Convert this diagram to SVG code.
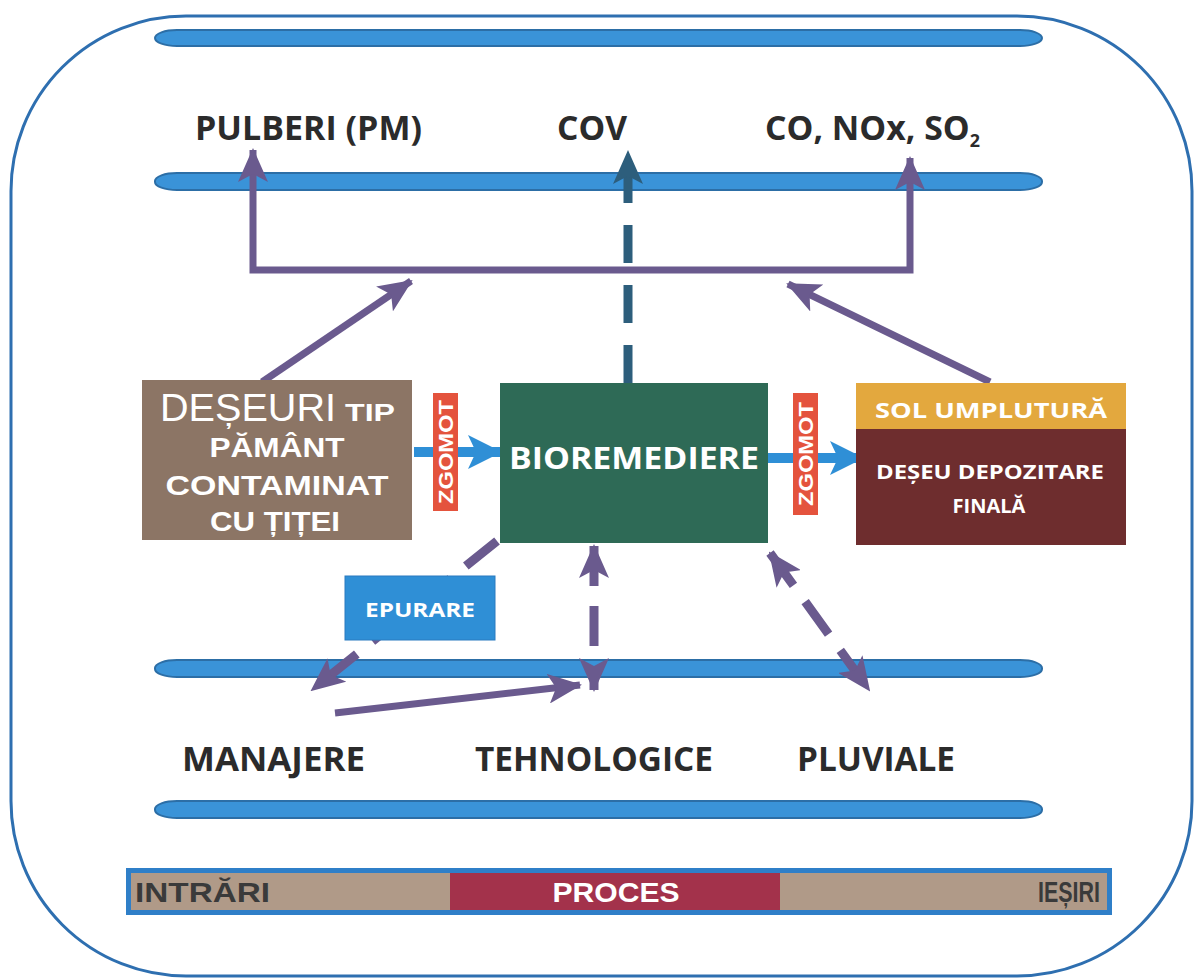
<svg xmlns="http://www.w3.org/2000/svg" width="1194" height="979" viewBox="0 0 1194 979">
<style>
.bar{fill:#3a93d8;stroke:#2c6ea6;stroke-width:2}
.lbl{font-family:"Open Sans","Liberation Sans",sans-serif;font-weight:700;fill:#2b2b2b}
.wt{font-family:"Open Sans","Liberation Sans",sans-serif;font-weight:700;fill:#ffffff}
.wa{font-family:"Liberation Sans",Arial,sans-serif;font-weight:700;fill:#ffffff}
.pur{fill:none;stroke:#6a5a8e;stroke-width:7}
.purd{fill:none;stroke:#6a5a8e;stroke-width:9;stroke-dasharray:40 20}
.blu{fill:none;stroke:#2f8fd6;stroke-width:10}
.zg{fill:#e4533d}
</style>
<defs>
<marker id="ap" markerUnits="userSpaceOnUse" markerWidth="34" markerHeight="30" viewBox="0 0 34 30" refX="32" refY="15" orient="auto-start-reverse">
<path d="M0,0 L34,15 L0,30 L8,15 z" fill="#6a5a8e"/>
</marker>
<marker id="at" markerUnits="userSpaceOnUse" markerWidth="34" markerHeight="30" viewBox="0 0 34 30" refX="32" refY="15" orient="auto">
<path d="M0,0 L34,15 L0,30 L8,15 z" fill="#2d5e7c"/>
</marker>
<marker id="ab" markerUnits="userSpaceOnUse" markerWidth="34" markerHeight="34" viewBox="0 0 34 34" refX="32" refY="17" orient="auto">
<path d="M0,0 L34,17 L0,34 L8,17 z" fill="#2f8fd6"/>
</marker>
</defs>
<rect x="0" y="0" width="1194" height="979" fill="#ffffff"/>
<rect x="11" y="16" width="1181" height="960" rx="175" ry="175" fill="none" stroke="#2e6fb0" stroke-width="3"/>
<g id="bars">
<rect class="bar" x="155" y="30" width="887" height="16" rx="22" ry="8"/>
<rect class="bar" x="155" y="173" width="887" height="17" rx="22" ry="8"/>
<rect class="bar" x="155" y="660" width="887" height="17" rx="22" ry="8"/>
<rect class="bar" x="155" y="801" width="887" height="17" rx="22" ry="8"/>
</g>
<g id="connectors">
<path class="pur" d="M253,150 V270 H910 V158" marker-start="url(#ap)" marker-end="url(#ap)"/>
<path class="pur" d="M262,382 L411,281" marker-end="url(#ap)"/>
<path class="pur" d="M990,382 L788,284" marker-end="url(#ap)"/>
<path fill="none" stroke="#2d5e7c" stroke-width="9" stroke-dasharray="38 22" d="M628,383 V152" marker-end="url(#at)"/>
<path class="blu" d="M414,452 H500" marker-end="url(#ab)"/>
<path class="blu" d="M768,458 H862" marker-end="url(#ab)"/>
<path class="purd" d="M497,541 L312,690" marker-end="url(#ap)"/>
<path class="purd" d="M594,546 V690" marker-start="url(#ap)" marker-end="url(#ap)"/>
<path class="purd" d="M770,553 L869,690" marker-start="url(#ap)" marker-end="url(#ap)"/>
<path class="pur" d="M335,713 L580,685" marker-end="url(#ap)"/>
</g>
<g id="top-labels">
<text class="lbl" x="195" y="140" font-size="34" textLength="227" lengthAdjust="spacingAndGlyphs">PULBERI (PM)</text>
<text class="lbl" x="557" y="140" font-size="34" textLength="70" lengthAdjust="spacingAndGlyphs">COV</text>
<text class="lbl" x="765" y="140" font-size="34" textLength="215" lengthAdjust="spacingAndGlyphs">CO, NOx, SO<tspan font-size="18" dy="7">2</tspan></text>
</g>
<g id="deseuri">
<rect x="142" y="380" width="270" height="160" fill="#8c7565"/>
<text x="160" y="421" font-family="Liberation Sans, Arial, sans-serif" font-size="38" fill="#fff" textLength="176" lengthAdjust="spacingAndGlyphs">DEȘEURI</text>
<text class="wa" x="345" y="421" font-size="24" textLength="50" lengthAdjust="spacingAndGlyphs">TIP</text>
<text class="wa" x="277" y="457" font-size="27" text-anchor="middle" textLength="135" lengthAdjust="spacingAndGlyphs">PĂMÂNT</text>
<text class="wa" x="277" y="495" font-size="27" text-anchor="middle" textLength="223" lengthAdjust="spacingAndGlyphs">CONTAMINAT</text>
<text class="wa" x="275" y="531" font-size="27" text-anchor="middle" textLength="130" lengthAdjust="spacingAndGlyphs">CU ȚIȚEI</text>
</g>
<g id="zgomot1">
<rect class="zg" x="433" y="393" width="25" height="118"/>
<text class="wa" x="0" y="0" font-size="20" text-anchor="middle" textLength="104" lengthAdjust="spacingAndGlyphs" transform="translate(452.5,452) rotate(-90)">ZGOMOT</text>
</g>
<g id="bioremediere">
<rect x="500" y="383" width="268" height="160" fill="#2e6a56"/>
<text class="wt" x="634" y="469" font-size="30" text-anchor="middle" textLength="250" lengthAdjust="spacingAndGlyphs">BIOREMEDIERE</text>
</g>
<g id="zgomot2">
<rect class="zg" x="793" y="393" width="25" height="122"/>
<text class="wa" x="0" y="0" font-size="20" text-anchor="middle" textLength="104" lengthAdjust="spacingAndGlyphs" transform="translate(812.5,454) rotate(-90)">ZGOMOT</text>
</g>
<g id="sol">
<rect x="856" y="383" width="270" height="46" fill="#e3a83e"/>
<text class="wt" x="991" y="418" font-size="22" text-anchor="middle" textLength="232" lengthAdjust="spacingAndGlyphs">SOL UMPLUTURĂ</text>
</g>
<g id="depozitare">
<rect x="856" y="429" width="270" height="116" fill="#6e2d2e"/>
<text class="wt" x="990" y="479" font-size="20" text-anchor="middle" textLength="228" lengthAdjust="spacingAndGlyphs">DEȘEU DEPOZITARE</text>
<text class="wt" x="989" y="513" font-size="20" text-anchor="middle">FINALĂ</text>
</g>
<g id="epurare">
<rect x="345" y="576" width="150" height="64" fill="#2f8fd6" stroke="#2a7bc0" stroke-width="1"/>
<text class="wt" x="420" y="617" font-size="20" text-anchor="middle" textLength="110" lengthAdjust="spacingAndGlyphs">EPURARE</text>
</g>
<g id="bottom-labels">
<text class="lbl" x="182" y="771" font-size="34" textLength="183" lengthAdjust="spacingAndGlyphs">MANAJERE</text>
<text class="lbl" x="475" y="771" font-size="34" textLength="238" lengthAdjust="spacingAndGlyphs">TEHNOLOGICE</text>
<text class="lbl" x="797" y="771" font-size="34" textLength="158" lengthAdjust="spacingAndGlyphs">PLUVIALE</text>
</g>
<g id="legend">
<rect x="126" y="868" width="986" height="47" fill="#2f7fc8"/>
<rect x="131" y="873" width="319" height="37" fill="#b09a88"/>
<rect x="450" y="873" width="330" height="37" fill="#a3324b"/>
<rect x="780" y="873" width="327" height="37" fill="#b09a88"/>
<text x="135" y="902" font-family="Liberation Sans, Arial, sans-serif" font-weight="700" font-size="28" fill="#3a3a3a" textLength="135" lengthAdjust="spacingAndGlyphs">INTRĂRI</text>
<text x="616" y="902" font-family="Liberation Sans, Arial, sans-serif" font-weight="700" font-size="28" fill="#ffffff" text-anchor="middle" textLength="127" lengthAdjust="spacingAndGlyphs">PROCES</text>
<text x="1100" y="902" font-family="Liberation Sans, Arial, sans-serif" font-weight="700" font-size="30" fill="#3a3a3a" text-anchor="end" textLength="62" lengthAdjust="spacingAndGlyphs">IEȘIRI</text>
</g>
</svg>
